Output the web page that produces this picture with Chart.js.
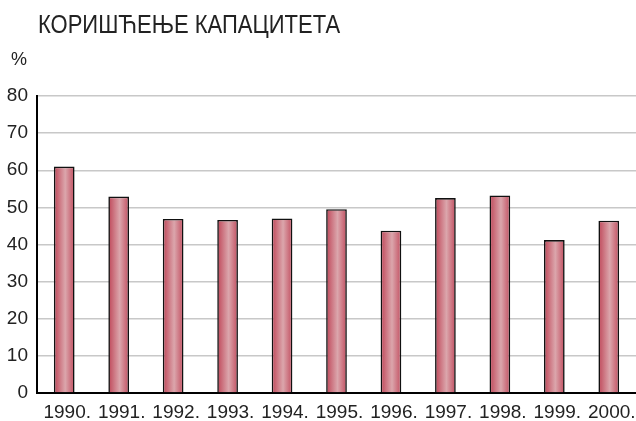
<!DOCTYPE html>
<html>
<head>
<meta charset="utf-8">
<script src="https://cdn.jsdelivr.net/npm/chart.js@4/dist/chart.umd.min.js"></script>
<style>
  html, body { margin: 0; padding: 0; background: #fff; }
  canvas { display: block; }
</style>
</head>
<body>
<canvas id="cap" width="636" height="421"></canvas>
<script>
const title = 'КОРИШЋЕЊЕ КАПАЦИТЕТА';
const unitLabel = '%';
const years = ['1990.', '1991.', '1992.', '1993.', '1994.', '1995.', '1996.', '1997.', '1998.', '1999.', '2000.'];
const usage = [61, 52.9, 46.9, 46.6, 47, 49.5, 43.7, 52.5, 53.2, 41.2, 46.4];
const yMin = 0, yMax = 80, yStep = 10;

const FONT = '"Liberation Sans", Arial, sans-serif';
const BAR_PCT = 0.38;

// horizontal shading of each bar, darker edges, light centre
function barFill(c) {
    const chart = c.chart;
    const xs = chart.scales.x;
    if (!xs || c.dataIndex === undefined) return '#c85868';
    const cx = xs.getPixelForValue(c.dataIndex);
    const w = (xs.width / years.length) * BAR_PCT;
    if (!isFinite(cx) || !isFinite(w) || w <= 0) return '#c85868';
    const g = chart.ctx.createLinearGradient(cx - w / 2, 0, cx + w / 2, 0);
    g.addColorStop(0, '#bf4658');
    g.addColorStop(0.55, '#dba6ac');
    g.addColorStop(1, '#c24e60');
    return g;
}

const headerText = {
    id: 'headerText',
    afterDraw(chart) {
        const ctx = chart.ctx;
        ctx.save();
        ctx.fillStyle = '#222';
        ctx.textBaseline = 'alphabetic';
        ctx.textAlign = 'left';
        ctx.font = '25px ' + FONT;
        ctx.translate(38, 33);
        ctx.scale(0.88, 1);
        ctx.fillText(title, 0, 0);
        ctx.restore();

        ctx.save();
        ctx.fillStyle = '#222';
        ctx.font = '18px ' + FONT;
        ctx.textBaseline = 'alphabetic';
        ctx.fillText(unitLabel, 11, 65);
        ctx.restore();
    }
};

new Chart(document.getElementById('cap'), {
    type: 'bar',
    data: {
        labels: years,
        datasets: [{
            data: usage,
            backgroundColor: barFill,
            borderColor: '#111',
            borderWidth: 1.6,
            barPercentage: BAR_PCT,
            categoryPercentage: 1
        }]
    },
    options: {
        responsive: false,
        animation: false,
        layout: { padding: { top: 96, right: 0, left: 0, bottom: 0 } },
        plugins: {
            legend: { display: false },
            tooltip: { enabled: false }
        },
        scales: {
            x: {
                grid: { display: false, drawTicks: false },
                border: { color: '#000', width: 2 },
                ticks: {
                    color: '#222',
                    font: { family: FONT, size: 19 },
                    padding: 8,
                    labelOffset: 3,
                    maxRotation: 0,
                    autoSkip: false
                },
                afterFit: s => {
                    s.height = 28;
                    s.paddingLeft = 0;
                    s.paddingRight = 0;
                }
            },
            y: {
                min: yMin,
                max: yMax,
                grid: { color: '#c8c8c8', lineWidth: 1.5, drawTicks: false },
                border: { color: '#000', width: 2 },
                ticks: {
                    stepSize: yStep,
                    color: '#222',
                    font: { family: FONT, size: 19 },
                    padding: 9
                },
                afterFit: s => { s.width = 37; }
            }
        }
    },
    plugins: [headerText]
});
</script>
</body>
</html>
